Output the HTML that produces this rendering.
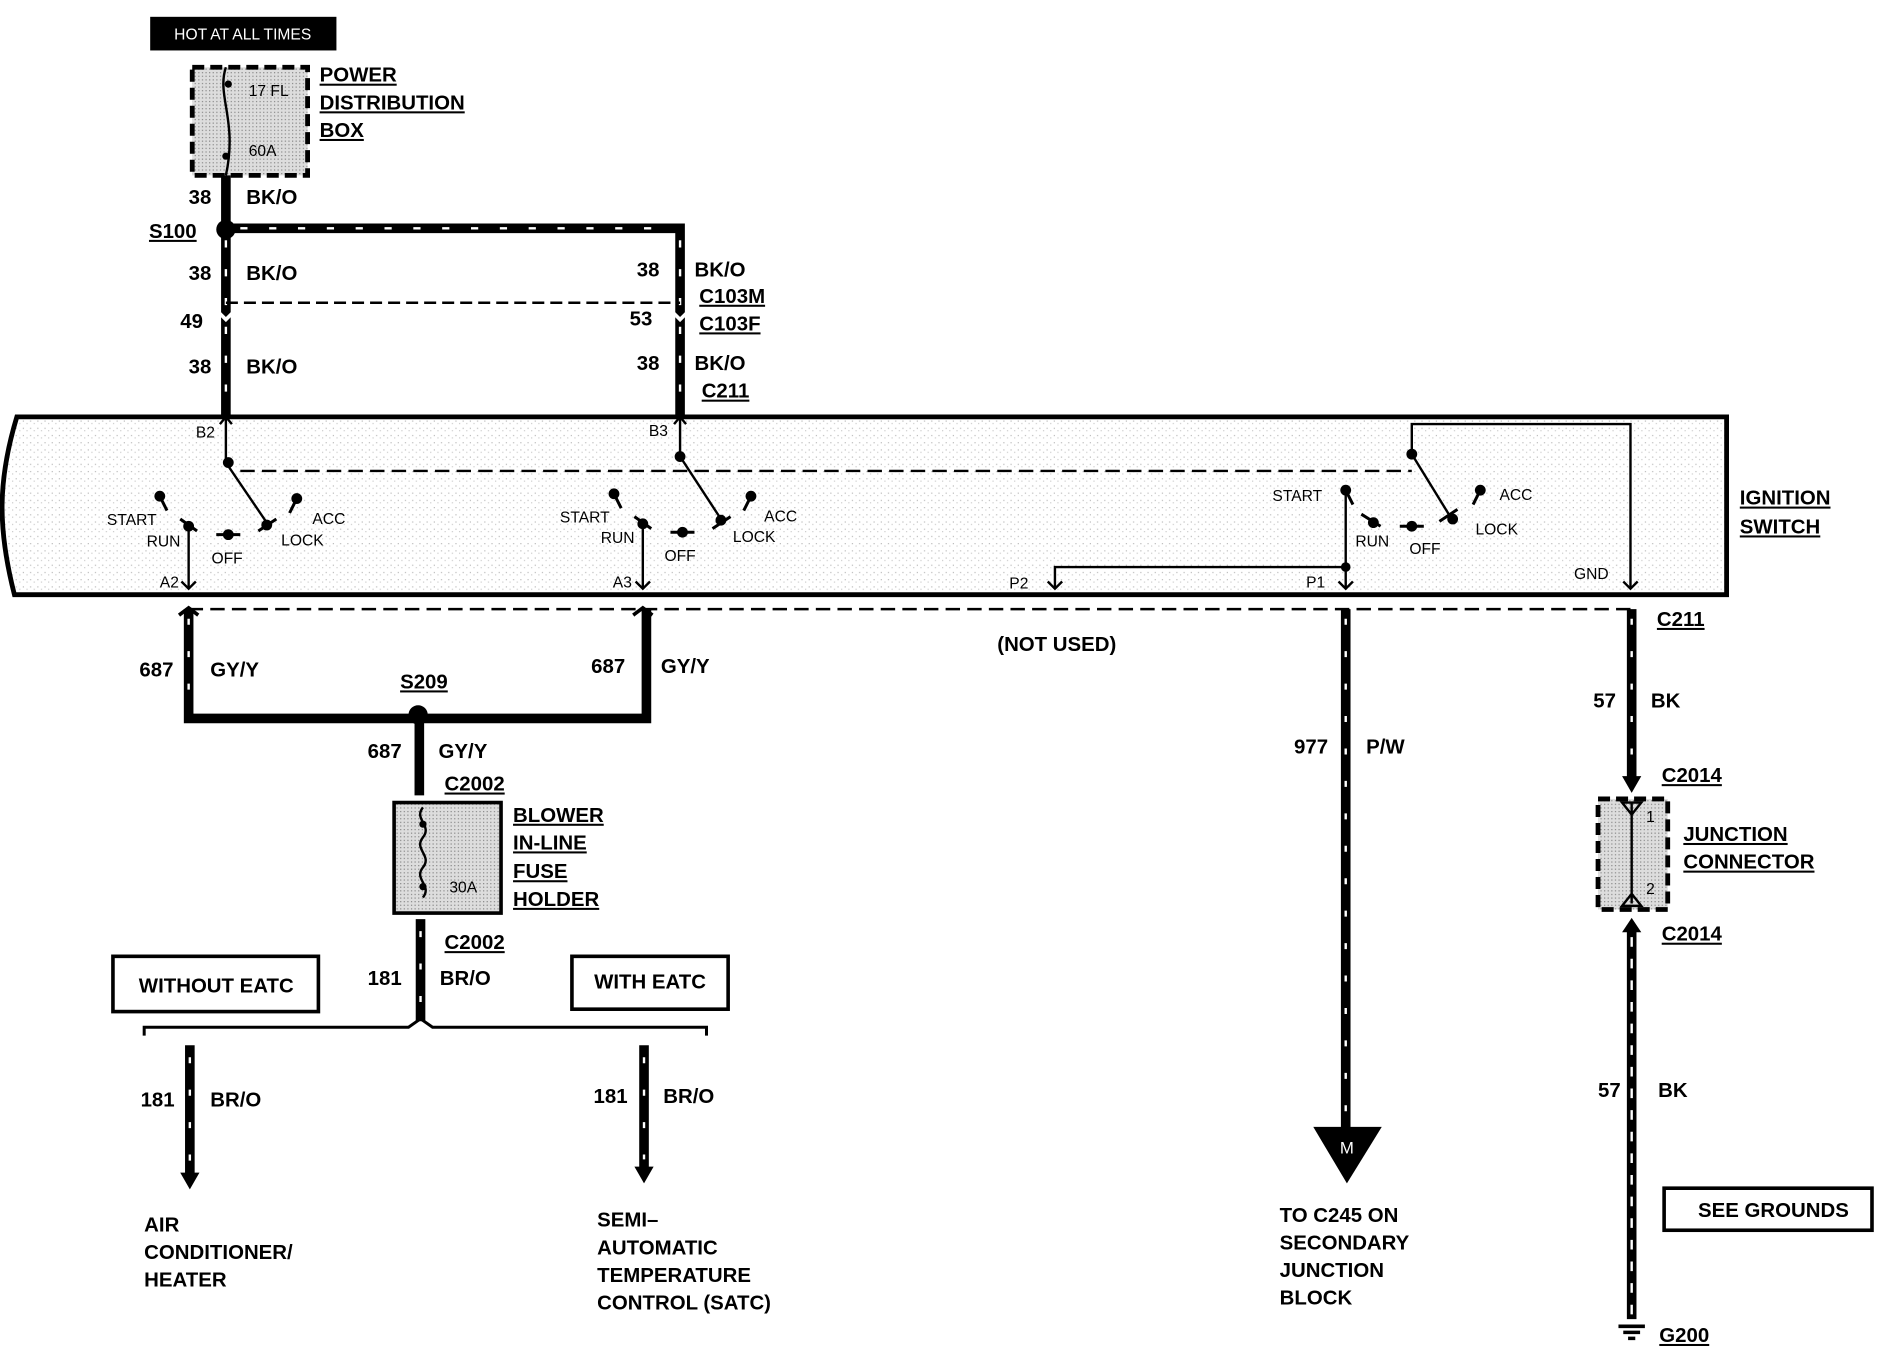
<!DOCTYPE html>
<html><head><meta charset="utf-8"><style>
html,body{margin:0;padding:0;background:#fff}
svg{display:block}
text{font-family:"Liberation Sans",Arial,sans-serif;font-weight:bold;fill:#000}
.s{font-size:13px;font-weight:normal}
.m{font-size:17px}
.u{text-decoration:underline}
</style></head><body>
<svg width="1884" height="1360" viewBox="0 0 1568 1132" preserveAspectRatio="none" xmlns="http://www.w3.org/2000/svg">
<defs>
<pattern id="g" width="6" height="6" patternUnits="userSpaceOnUse"><rect width="6" height="6" fill="#fff"/><rect x="1" y="2" width="1" height="1" fill="#bbb"/><rect x="4" y="4" width="1" height="1" fill="#ccc"/></pattern>
<pattern id="d" width="3" height="3" patternUnits="userSpaceOnUse"><rect width="3" height="3" fill="#ddd"/><rect width="1" height="1" fill="#888"/></pattern>
</defs>
<!-- HOT -->
<rect x="125" y="14" width="155" height="28" fill="#000"/>
<text x="202" y="33" text-anchor="middle" style="font-size:13px;fill:#fff;font-weight:normal">HOT AT ALL TIMES</text>
<!-- PDB -->
<rect x="160" y="56" width="96" height="90" fill="url(#d)" stroke="#000" stroke-width="4" stroke-dasharray="10,5"/>
<path d="M188 56 C180 80,198 100,188 146" stroke="#000" stroke-width="2" fill="none"/>
<circle cx="190" cy="70" r="3"/><circle cx="188" cy="130" r="3"/>
<text x="207" y="80" class="s">17 FL</text><text x="207" y="130" class="s">60A</text>
<text x="266" y="68" class="m u">POWER</text><text x="266" y="91" class="m u">DISTRIBUTION</text><text x="266" y="114" class="m u">BOX</text>
<!-- upper wires -->
<g stroke="#000" stroke-width="8" fill="none">
<path d="M188 146 V345"/><path d="M188 190 H566 V345"/>
</g>
<g stroke="#fff" stroke-width="2" stroke-dasharray="6,18" fill="none">
<path d="M188 200 V340"/><path d="M200 190 H560"/><path d="M566 200 V340"/>
</g>
<circle cx="188" cy="191" r="8"/>
<path d="M188 252 H566" stroke="#000" stroke-width="2" stroke-dasharray="10,5"/>
<path d="M180 258 l8 8 8-8 M558 258 l8 8 8-8" stroke="#fff" stroke-width="3" fill="none"/>
<text x="157" y="170" class="m">38</text><text x="205" y="170" class="m">BK/O</text>
<text x="124" y="198" class="m u">S100</text>
<text x="157" y="233" class="m">38</text><text x="205" y="233" class="m">BK/O</text>
<text x="150" y="273" class="m">49</text>
<text x="157" y="311" class="m">38</text><text x="205" y="311" class="m">BK/O</text>
<text x="530" y="230" class="m">38</text><text x="578" y="230" class="m">BK/O</text>
<text x="582" y="252" class="m u">C103M</text>
<text x="524" y="271" class="m">53</text><text x="582" y="275" class="m u">C103F</text>
<text x="530" y="308" class="m">38</text><text x="578" y="308" class="m">BK/O</text>
<text x="584" y="331" class="m u">C211</text>
<!-- switch box -->
<path d="M14 347 H1437 V495 H12 C-2 440,-2 400,14 347 Z" fill="url(#g)" stroke="#000" stroke-width="4"/>
<g stroke="#000" stroke-width="2" fill="none">
<path d="M188 347 V385 L222 435"/><path d="M566 347 V380 L600 432"/>
<path d="M200 392 H1175" stroke-dasharray="12,6"/>
<path d="M1175 380 V353 H1357 V490"/><path d="M1175 378 L1207 430"/>
<path d="M157 438 V490 M535 436 V490 M1120 408 V490 M1120 472 H878 V490"/>
<path d="M151 484 l6 6 6-6 M529 484 l6 6 6-6 M1114 484 l6 6 6-6 M872 484 l6 6 6-6 M1351 484 l6 6 6-6 M183 353 l5-6 5 6 M561 353 l5-6 5 6"/>
</g>
<g stroke="#000" stroke-width="2.5">
<path d="M133 413 l6 12 M150 432 l14 10 M180 445 h20 M215 442 l15-10 M247 415 l-6 12"/>
<path d="M511 411 l6 12 M528 430 l14 10 M558 443 h20 M593 440 l15-10 M625 413 l-6 12"/>
<path d="M1120 408 l6 12 M1133 428 l16 10 M1165 438 h20 M1198 434 l15-10 M1232 408 l-6 12"/>
</g>
<g>
<circle cx="133" cy="413" r="4.5"/><circle cx="157" cy="438" r="4.5"/><circle cx="190" cy="445" r="4.5"/><circle cx="222" cy="437" r="4.5"/><circle cx="247" cy="415" r="4.5"/><circle cx="190" cy="385" r="4.5"/>
<circle cx="511" cy="411" r="4.5"/><circle cx="535" cy="436" r="4.5"/><circle cx="568" cy="443" r="4.5"/><circle cx="600" cy="433" r="4.5"/><circle cx="625" cy="413" r="4.5"/><circle cx="566" cy="380" r="4.5"/>
<circle cx="1120" cy="408" r="4.5"/><circle cx="1143" cy="435" r="4.5"/><circle cx="1175" cy="438" r="4.5"/><circle cx="1209" cy="432" r="4.5"/><circle cx="1232" cy="408" r="4.5"/><circle cx="1175" cy="378" r="4.5"/><circle cx="1120" cy="472" r="4"/>
</g>
<g class="s">
<text x="163" y="364" class="s">B2</text><text x="540" y="363" class="s">B3</text>
<text x="89" y="437" class="s">START</text><text x="122" y="455" class="s">RUN</text><text x="176" y="469" class="s">OFF</text><text x="234" y="454" class="s">LOCK</text><text x="260" y="436" class="s">ACC</text><text x="133" y="489" class="s">A2</text>
<text x="466" y="435" class="s">START</text><text x="500" y="452" class="s">RUN</text><text x="553" y="467" class="s">OFF</text><text x="610" y="451" class="s">LOCK</text><text x="636" y="434" class="s">ACC</text><text x="510" y="489" class="s">A3</text>
<text x="1059" y="417" class="s">START</text><text x="1128" y="455" class="s">RUN</text><text x="1173" y="461" class="s">OFF</text><text x="1228" y="445" class="s">LOCK</text><text x="1248" y="416" class="s">ACC</text>
<text x="840" y="490" class="s">P2</text><text x="1087" y="489" class="s">P1</text><text x="1310" y="482" class="s">GND</text>
</g>
<text x="1448" y="420" class="m u">IGNITION</text><text x="1448" y="444" class="m u">SWITCH</text>
<!-- lower -->
<path d="M157 507 H1357" stroke="#000" stroke-width="2" stroke-dasharray="12,6"/>
<g stroke="#000" stroke-width="8" fill="none">
<path d="M157 507 V598 H538 V507"/><path d="M349 598 V662"/>
<path d="M350 765 V850"/><path d="M158 870 V980"/><path d="M536 870 V975"/>
<path d="M1120 507 V940"/><path d="M1358 507 V650"/><path d="M1358 770 V1098"/>
</g>
<path d="M149 512 l8 -6 8 6 M527 512 l8 -6 8 6" stroke="#000" stroke-width="3" fill="none"/>
<g stroke="#fff" stroke-width="2" stroke-dasharray="5,22" fill="none">
<path d="M157 515 V590 H530 V515"/><path d="M1120 515 V930"/><path d="M1358 515 V640"/><path d="M1358 780 V1095" stroke-dasharray="8,10"/><path d="M158 880 V970 M536 880 V965 M350 775 V840"/>
</g>
<circle cx="348" cy="595" r="8"/>
<text x="116" y="563" class="m">687</text><text x="175" y="563" class="m">GY/Y</text>
<text x="492" y="560" class="m">687</text><text x="550" y="560" class="m">GY/Y</text>
<text x="333" y="573" class="m u">S209</text>
<text x="306" y="631" class="m">687</text><text x="365" y="631" class="m">GY/Y</text>
<text x="370" y="658" class="m u">C2002</text>
<text x="830" y="542" class="m">(NOT USED)</text>
<!-- fuse holder -->
<rect x="328" y="668" width="89" height="92" fill="url(#d)" stroke="#000" stroke-width="3"/>
<path d="M352 672 c-8 10 8 15 0 25 s8 15 0 25 s8 15 0 25" stroke="#000" stroke-width="2" fill="none"/>
<circle cx="352" cy="686" r="3"/><circle cx="352" cy="738" r="3"/>
<text x="374" y="743" class="s">30A</text>
<text x="427" y="684" class="m u">BLOWER</text><text x="427" y="707" class="m u">IN-LINE</text><text x="427" y="731" class="m u">FUSE</text><text x="427" y="754" class="m u">HOLDER</text>
<text x="370" y="790" class="m u">C2002</text>
<text x="306" y="820" class="m">181</text><text x="366" y="820" class="m">BR/O</text>
<rect x="94" y="796" width="171" height="46" fill="none" stroke="#000" stroke-width="3"/>
<text x="180" y="826" text-anchor="middle" class="m">WITHOUT EATC</text>
<rect x="476" y="796" width="130" height="44" fill="none" stroke="#000" stroke-width="3"/>
<text x="541" y="823" text-anchor="middle" class="m">WITH EATC</text>
<path d="M120 862 V855 H340 L350 848 L360 855 H588 V862" stroke="#000" stroke-width="2.5" fill="none"/>
<path d="M158 990 l-8 -14 h16 Z M536 985 l-8 -14 h16 Z"/>
<text x="117" y="921" class="m">181</text><text x="175" y="921" class="m">BR/O</text>
<text x="494" y="918" class="m">181</text><text x="552" y="918" class="m">BR/O</text>
<text x="120" y="1025" class="m">AIR</text><text x="120" y="1048" class="m">CONDITIONER/</text><text x="120" y="1071" class="m">HEATER</text>
<text x="497" y="1021" class="m">SEMI–</text><text x="497" y="1044" class="m">AUTOMATIC</text><text x="497" y="1067" class="m">TEMPERATURE</text><text x="497" y="1090" class="m">CONTROL (SATC)</text>
<text x="1077" y="627" class="m">977</text><text x="1137" y="627" class="m">P/W</text>
<path d="M1093 938 H1150 L1121 985 Z"/>
<text x="1121" y="960" text-anchor="middle" style="font-size:14px;fill:#fff;font-weight:normal">M</text>
<text x="1065" y="1017" class="m">TO C245 ON</text><text x="1065" y="1040" class="m">SECONDARY</text><text x="1065" y="1063" class="m">JUNCTION</text><text x="1065" y="1086" class="m">BLOCK</text>
<text x="1379" y="521" class="m u">C211</text>
<text x="1326" y="589" class="m">57</text><text x="1374" y="589" class="m">BK</text>
<path d="M1358 660 l-8 -14 h16 Z"/>
<text x="1383" y="651" class="m u">C2014</text>
<rect x="1330" y="665" width="58" height="92" fill="url(#d)" stroke="#000" stroke-width="4" stroke-dasharray="10,5"/>
<path d="M1358 668 V752 M1350 668 h16 l-8 10 Z M1350 754 h16 l-8 -10 Z" stroke="#000" stroke-width="2" fill="none"/>
<text x="1370" y="684" class="s">1</text><text x="1370" y="744" class="s">2</text>
<text x="1401" y="700" class="m u">JUNCTION</text><text x="1401" y="723" class="m u">CONNECTOR</text>
<path d="M1358 764 l-8 12 h16 Z"/>
<text x="1383" y="783" class="m u">C2014</text>
<text x="1330" y="913" class="m">57</text><text x="1380" y="913" class="m">BK</text>
<rect x="1385" y="989" width="173" height="35" fill="none" stroke="#000" stroke-width="3"/>
<text x="1476" y="1013" text-anchor="middle" class="m">SEE GROUNDS</text>
<path d="M1347 1104 h22 M1351 1109 h14 M1355 1114 h6" stroke="#000" stroke-width="3"/>
<text x="1381" y="1117" class="m u">G200</text>
</svg>
</body></html>
